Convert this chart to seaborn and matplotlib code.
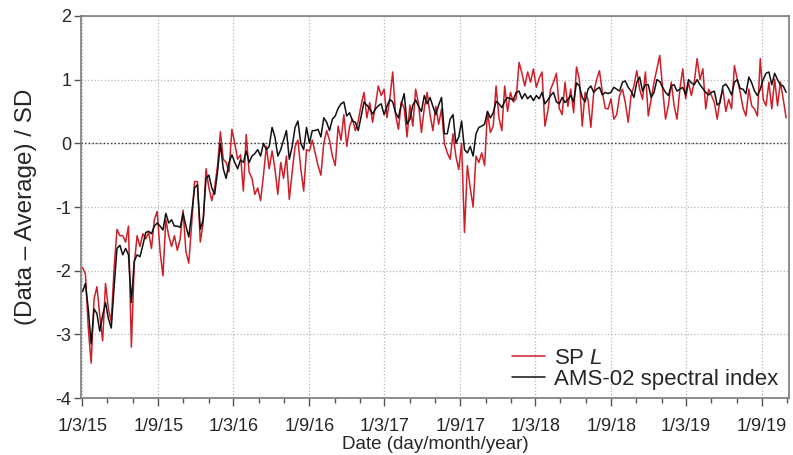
import pandas as pd
import matplotlib.pyplot as plt
import matplotlib.dates as mdates
import matplotlib.ticker as ticker
import seaborn as sns

# Weekly readings, 2 Mar 2015 -> end Oct 2019
sp_l = [
    -1.95, -2.05, -2.9, -3.45, -2.45, -2.25, -2.7, -3.1, -2.2, -2.6,
    -2.8, -1.95, -1.35, -1.45, -1.45, -1.55, -1.3, -3.2, -1.9, -1.45,
    -1.62, -1.42, -1.5, -1.4, -1.65, -1.2, -1.07, -1.7, -2.08, -1.2,
    -1.45, -1.62, -1.45, -1.68, -1.5, -1.05, -1.7, -1.88, -1.26, -0.6,
    -0.6, -1.55, -1.25, -0.4, -0.7, -0.9, -0.7, -0.35, 0.18, -0.25,
    -0.3, -0.45, 0.22, 0.0, -0.25, -0.18, -0.75, 0.14, -0.45, -0.55,
    -0.8, -0.7, -0.9, -0.5, -0.05, -0.4, -0.12, -0.4, -0.8, -0.3,
    -0.55, -0.2, -0.88, -0.45, -0.05, 0.05, -0.4, -0.75, -0.1, -0.12,
    0.05, -0.15, -0.35, -0.5, 0.0, 0.2, 0.05, -0.2, -0.35, 0.27,
    0.05, 0.45, -0.05, 0.27, 0.38, 0.2, 0.35, 0.6, 0.8, 0.4,
    0.64, 0.33, 0.6, 0.9, 0.75, 0.85, 0.4, 0.7, 1.12, 0.45,
    0.22, 0.65, 0.55, 0.1, 0.6, 0.27, 0.85, 0.62, 0.17, 0.55,
    0.8, 0.45, 0.2, 0.58, 0.3, 0.54, 0.0, -0.15, -0.25, 0.15,
    -0.2, -0.41, 0.0, -1.4, -0.35, -0.7, -1.0, -0.2, -0.3, -0.15,
    -0.35, 0.5, 0.17, 0.27, 0.9, 0.4, 0.2, 0.9, 0.5, 0.8,
    0.65, 0.7, 1.27, 1.1, 0.9, 1.12, 0.96, 1.17, 0.88, 1.02,
    1.12, 0.27, 0.5, 0.85, 0.96, 1.1, 0.55, 0.45, 0.96, 0.58,
    0.85, 0.48, 1.2, 1.0, 0.27, 0.8, 0.69, 0.25, 0.8, 1.0,
    1.14, 0.8, 0.55, 0.54, 0.7, 0.38, 0.45, 0.75, 0.85, 0.64,
    0.33, 0.75, 0.9, 1.14, 0.85, 0.69, 1.12, 0.43, 0.7, 0.96,
    1.17, 1.38, 0.85, 0.38, 0.6, 0.96, 0.59, 0.38, 0.85, 1.17,
    0.7, 0.96, 0.75, 0.96, 1.33, 1.0, 1.17, 0.54, 0.85, 0.75,
    0.64, 0.38, 0.69, 0.85, 0.5, 0.69, 0.54, 1.22, 1.0, 0.8,
    0.55, 0.43, 0.85, 0.59, 0.54, 0.43, 1.33, 0.69, 0.59, 0.96,
    0.54, 1.01, 0.59, 0.96, 0.69, 0.4,
]

ams_index = [
    -2.33, -2.2, -2.6, -3.15, -2.6, -2.67, -2.95, -2.7, -2.5, -2.75,
    -2.9, -2.25, -1.65, -1.6, -1.75, -1.65, -1.75, -2.5, -1.85, -1.75,
    -1.78, -1.6, -1.4, -1.38, -1.42, -1.3, -1.25, -1.3, -1.36, -1.1,
    -1.25, -1.2, -1.3, -1.3, -1.32, -1.1, -1.3, -1.47, -1.1, -0.7,
    -0.65, -1.35, -1.2, -0.55, -0.5, -0.7, -0.8, -0.45, 0.0, -0.4,
    -0.55, -0.3, -0.18, -0.3, -0.4, -0.26, -0.3, -0.12, -0.3, -0.2,
    -0.16, -0.1, -0.2, 0.0, -0.1, -0.05, 0.25, 0.1, -0.2, -0.1,
    0.05, 0.2, -0.25, -0.05, 0.25, 0.35, 0.0, -0.1, 0.25, 0.0,
    0.2, 0.2, 0.22, 0.1, 0.4, 0.33, 0.2, 0.38, 0.43, 0.55,
    0.62, 0.65, 0.43, 0.48, 0.35, 0.33, 0.2, 0.42, 0.65, 0.6,
    0.54, 0.46, 0.54, 0.59, 0.62, 0.45, 0.58, 0.69, 0.65, 0.48,
    0.4, 0.62, 0.78, 0.3, 0.38, 0.6, 0.68, 0.58, 0.5, 0.75,
    0.62, 0.72, 0.58, 0.45, 0.6, 0.72, 0.15, 0.15, 0.38, 0.45,
    0.0, 0.1, 0.35, -0.1, -0.15, -0.05, -0.2, 0.15, 0.25, 0.27,
    0.3, 0.5, 0.4, 0.48, 0.66, 0.62, 0.56, 0.66, 0.72, 0.7,
    0.68, 0.8, 0.82, 0.7, 0.78, 0.7, 0.75, 0.67, 0.75, 0.7,
    0.8, 0.62, 0.68, 0.75, 0.8, 0.65, 0.62, 0.72, 0.64, 0.69,
    0.75, 0.65, 0.95, 0.9, 0.72, 0.65, 0.85, 0.9, 0.8, 0.85,
    0.88, 0.76, 0.8, 0.78, 0.8, 0.88, 0.85, 0.82, 0.96, 0.98,
    0.88, 0.82, 0.72, 0.96, 1.04, 0.82, 0.92, 0.92, 0.72, 0.8,
    1.0, 0.97, 0.88, 0.8, 0.75, 0.9, 0.92, 0.82, 0.85, 0.88,
    0.76, 1.0, 0.95, 0.92, 1.0, 0.92, 0.86, 0.8, 0.76, 0.8,
    0.82, 0.6, 0.64, 0.9, 0.93, 0.86, 0.76, 0.96, 1.0, 0.86,
    0.85, 0.78, 1.04, 0.95, 0.82, 0.75, 0.85, 1.0, 1.1, 1.12,
    0.92, 1.1, 1.0, 0.92, 0.9, 0.8,
]

dates = pd.date_range('2015-03-02', '2019-10-29', periods=len(ams_index))
df = pd.DataFrame({'date': dates, 'sp_l': sp_l, 'ams': ams_index})

sns.set_style('ticks')
plt.rcParams['font.family'] = ['Liberation Sans', 'DejaVu Sans']
plt.rcParams['axes.unicode_minus'] = False
plt.rcParams['mathtext.fontset'] = 'custom'
plt.rcParams['mathtext.rm'] = 'Liberation Sans'
plt.rcParams['mathtext.it'] = 'Liberation Sans:italic'

fig = plt.figure(figsize=(7.93, 4.55), dpi=100)
ax = fig.add_axes([0.102, 0.125, 0.893, 0.840])

sns.lineplot(data=df, x='date', y='sp_l', color='#d01e29', lw=1.1,
             label='SP $L$', estimator=None, ax=ax)
sns.lineplot(data=df, x='date', y='ams', color='#111111', lw=1.1,
             label='AMS-02 spectral index', estimator=None, ax=ax)

ax.set_xlim(pd.Timestamp('2015-02-26'), pd.Timestamp('2019-11-05'))
ax.set_ylim(-4, 2)
ax.set_yticks([-4, -3, -2, -1, 0, 1, 2])

ax.xaxis.set_major_locator(mdates.MonthLocator(bymonth=[3, 9]))
ax.xaxis.set_minor_locator(mdates.MonthLocator(bymonth=[1, 5, 7, 11]))


def fmt_date(v, pos):
    d = mdates.num2date(v)
    return f'{d.day}/{d.month}/{d.year % 100:02d}'


ax.xaxis.set_major_formatter(ticker.FuncFormatter(fmt_date))

ax.grid(True, which='major', ls=':', color='#b8b8b8', lw=0.9)
ax.axhline(0, ls=':', color='#333333', lw=1.0, zorder=1)

for s in ax.spines.values():
    s.set_color('#7a7a7a')
    s.set_linewidth(1.2)

ax.tick_params(axis='x', which='major', length=6, width=1, color='#555555',
               labelsize=13, pad=8)
ax.tick_params(axis='x', which='minor', length=3.5, width=1, color='#555555')
ax.tick_params(axis='y', which='major', length=5, width=1, color='#555555',
               labelsize=13, pad=2)

ax.set_xlabel('Date (day/month/year)', fontsize=13.5, labelpad=1)
ax.set_ylabel('(Data \u2013 Average) / SD', fontsize=17.5, labelpad=13)

ax.legend(loc='lower right', bbox_to_anchor=(0.985, 0.022), frameon=False,
          fontsize=16, labelspacing=0.0, handlelength=1.5, handletextpad=0.4,
          borderpad=0, borderaxespad=0)

fig.savefig('out.png', dpi=100)
